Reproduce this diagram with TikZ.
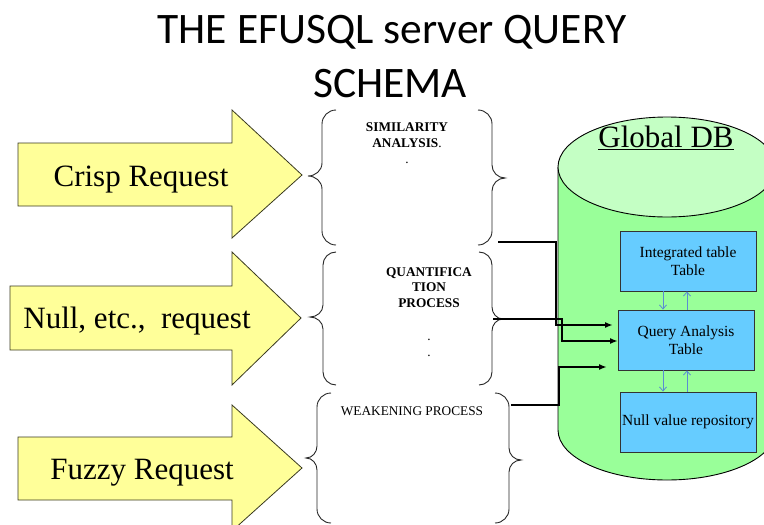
\documentclass[tikz,border=0pt]{standalone}
\usepackage{fontspec}
\setmainfont{Liberation Serif}
\newfontfamily\titlefont{Carlito}
\usetikzlibrary{arrows.meta}
\definecolor{arrowyellow}{HTML}{FFFF99}
\definecolor{arrowedge}{HTML}{3A3A20}
\definecolor{dbgreen}{HTML}{99FF99}
\definecolor{dbtop}{HTML}{C4FFC4}
\definecolor{tablue}{HTML}{66CCFF}
\definecolor{linkblue}{HTML}{5A8CD2}
\tikzset{
  bigarrow/.style={fill=arrowyellow, draw=arrowedge, line width=0.8pt, line join=miter},
  reqtext/.style={font=\fontsize{31}{34}\selectfont, inner sep=0pt, anchor=base},
  bracepath/.style={draw=black!85, line width=0.9pt},
  proctext/.style={font=\fontsize{13.3}{15.5}\selectfont\bfseries, align=center, inner sep=0pt, anchor=base},
  tablebox/.style={draw=black!80, fill=tablue, line width=0.9pt, minimum width=136pt, minimum height=60pt, inner sep=0pt, align=center, font=\fontsize{15.5}{18}\selectfont},
  link/.style={line width=2pt, -{Latex[length=8pt,width=6pt]}},
  smalllink/.style={draw=linkblue, line width=0.8pt, -{Straight Barb[length=4pt,width=7pt]}}
}
\begin{document}
\begin{tikzpicture}[x=1pt,y=-1pt]
\useasboundingbox (0,0) rectangle (764,525);
\clip (0,0) rectangle (764,525);
% title
\node[font=\titlefont\fontsize{43.5}{47}\selectfont, anchor=base, inner sep=0pt] (t1) at (392,43) {THE EFUSQL server QUERY};
\node[font=\titlefont\fontsize{43.5}{47}\selectfont, anchor=base, inner sep=0pt] (t2) at (390,97) {SCHEMA};
% big arrows
\draw[bigarrow] (18,143) -- (232,143) -- (232,110) -- (302,175) -- (232,238) -- (232,206) -- (18,206) -- cycle;
\node[reqtext] (crisp) at (141,186) {Crisp Request};
\draw[bigarrow] (10,286) -- (232,286) -- (232,252) -- (301,318) -- (232,385) -- (232,350) -- (10,350) -- cycle;
\node[reqtext] (null) at (137,328) {Null, etc.,\ \ request};
\draw[bigarrow] (18,437) -- (232,437) -- (232,405) -- (302,468) -- (232,531) -- (232,500) -- (18,500) -- cycle;
\node[reqtext] (fuzzy) at (142,479) {Fuzzy Request};
% braces 1
\draw[bracepath] (336,110) to[out=180,in=90] (322,124) -- (322,163) to[out=-90,in=0] (308,176) to[out=0,in=90] (322,189) -- (322,231) to[out=-90,in=180] (336,245);
\draw[bracepath] (478,110) to[out=0,in=90] (492,124) -- (492,165) to[out=-90,in=180] (505,178) to[out=180,in=90] (492,191) -- (492,231) to[out=-90,in=0] (478,245);
% braces 2
\draw[bracepath] (336,252) to[out=180,in=90] (323,265) -- (323,305) to[out=-90,in=0] (310,317) to[out=0,in=90] (323,329) -- (323,372) to[out=-90,in=180] (336,385);
\draw[bracepath] (479,252) to[out=0,in=90] (492,265) -- (492,307) to[out=-90,in=180] (503,319) to[out=180,in=90] (492,331) -- (492,372) to[out=-90,in=0] (479,385);
% braces 3
\draw[bracepath] (331,393) to[out=180,in=90] (317,407) -- (317,446) to[out=-90,in=0] (306,458) to[out=0,in=90] (317,470) -- (317,509) to[out=-90,in=180] (331,523);
\draw[bracepath] (495,393) to[out=0,in=90] (509,407) -- (509,448) to[out=-90,in=180] (521,460) to[out=180,in=90] (509,472) -- (509,509) to[out=-90,in=0] (495,523);
% process texts (base = last line)
\node[proctext] (sim) at (407,147) {SIMILARITY\\ANALYSIS{\mdseries .}};
\node[font=\fontsize{13.3}{15}\selectfont, inner sep=0pt, anchor=base] (dot1) at (407,163) {.};
\node[proctext] (quant) at (429,307) {QUANTIFICA\\TION\\PROCESS};
\node[font=\fontsize{13.3}{15}\selectfont, inner sep=0pt, anchor=base] (dot2) at (429,340) {.};
\node[font=\fontsize{13.3}{15}\selectfont, inner sep=0pt, anchor=base] (dot3) at (429,356) {.};
\node[font=\fontsize{13.3}{15}\selectfont, inner sep=0pt, anchor=base] (weak) at (412,415) {WEAKENING PROCESS};
% cylinder
\fill[dbgreen] (558,167) -- (558,430) arc[start angle=180, end angle=0, x radius=109, y radius=50] -- (776,167) -- cycle;
\draw[line width=0.9pt] (558,167) -- (558,430) arc[start angle=180, end angle=0, x radius=109, y radius=50] -- (776,167);
\draw[fill=dbtop, line width=0.9pt] (667,167) ellipse[x radius=109, y radius=50];
\node[font=\fontsize{31}{34}\selectfont, inner sep=0pt, anchor=base] (gdb) at (666,147) {\underline{Global DB}};
% tables
\node[tablebox] (integ) at (688,261) {Integrated table\\Table};
\node[tablebox] (qat) at (686,340) {Query Analysis\\Table};
\node[tablebox] (nvr) at (688,422) {Null value repository};
\draw[smalllink] (integ.south -| 663,0) -- (qat.north -| 663,0);
\draw[smalllink] (qat.north -| 687,0) -- (integ.south -| 687,0);
\draw[smalllink] (qat.south -| 663,0) -- (nvr.north -| 663,0);
\draw[smalllink] (nvr.north -| 687,0) -- (qat.south -| 687,0);
% connectors
\coordinate (s1) at (498,242);
\coordinate (e1) at (613,325);
\coordinate (s2) at (493,319);
\coordinate (e2) at (618,341);
\coordinate (s3) at (511,405);
\coordinate (e3) at (607,367);
\draw[link] (s1) -- (556,242) -- (556,325) -- (e1);
\draw[link] (s2) -- (562,319) -- (562,341) -- (e2);
\draw[link] (s3) -- (559,405) -- (559,367) -- (e3);
\end{tikzpicture}
\end{document}
